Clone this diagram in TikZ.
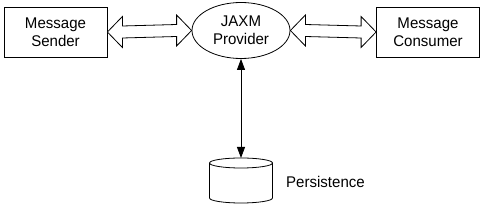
\documentclass[tikz,border=0pt]{standalone}
\usepackage{fontspec}
\setmainfont{Liberation Sans}[FakeStretch=0.97]
\usetikzlibrary{calc,arrows.meta,shapes.geometric}
\begin{document}
\begin{tikzpicture}[x=1pt,y=1pt,
  lbl/.style={font=\fontsize{15.5}{18}\selectfont, align=center},
  boxnode/.style={draw, line width=0.8pt, minimum width=103pt, minimum height=50pt, inner sep=0pt, lbl},
  fatarrow/.style={draw, line width=0.8pt, fill=white, line join=miter},
  thinarrow/.style={line width=0.8pt, {Triangle[length=11pt,width=8pt]}-{Triangle[length=11pt,width=8pt]}}
]
\useasboundingbox (0,0) rectangle (483,-208);
\node[boxnode] (sender) at (55.5,-32) {Message\\Sender};
\node[boxnode] (consumer) at (428,-32) {Message\\Consumer};
\node[draw, line width=0.8pt, ellipse, minimum width=98pt, minimum height=56pt, inner sep=0pt, lbl] (prov) at (241,-30.5) {JAXM\\Provider};
% double arrows
\foreach \a/\b in {sender.east/prov.west, prov.east/consumer.west}{
  \draw[fatarrow] ($(\a)$) -- ++(15,15.5) -- ++(0,-9.5) -- ($(\b)+(-15,6)$) -- ++(0,9.5) -- ($(\b)$)
     -- ++(-15,-15.5) -- ++(0,9.5) -- ($(\a)+(15,-6)$) -- ++(0,-9.5) -- cycle;
}
% cylinder
\coordinate (dbtop) at (241,-158);
\draw[line width=0.8pt] (241,-163) ellipse [x radius=31.5, y radius=5];
\draw[line width=0.8pt] (209.5,-163) -- (209.5,-198) arc[start angle=180, end angle=360, x radius=31.5, y radius=5] -- (272.5,-163);
\node[lbl, anchor=west, inner sep=0pt] (pers) at (286,-182) {Persistence};
\draw[thinarrow] (prov.south) -- (dbtop);
\end{tikzpicture}
\end{document}
